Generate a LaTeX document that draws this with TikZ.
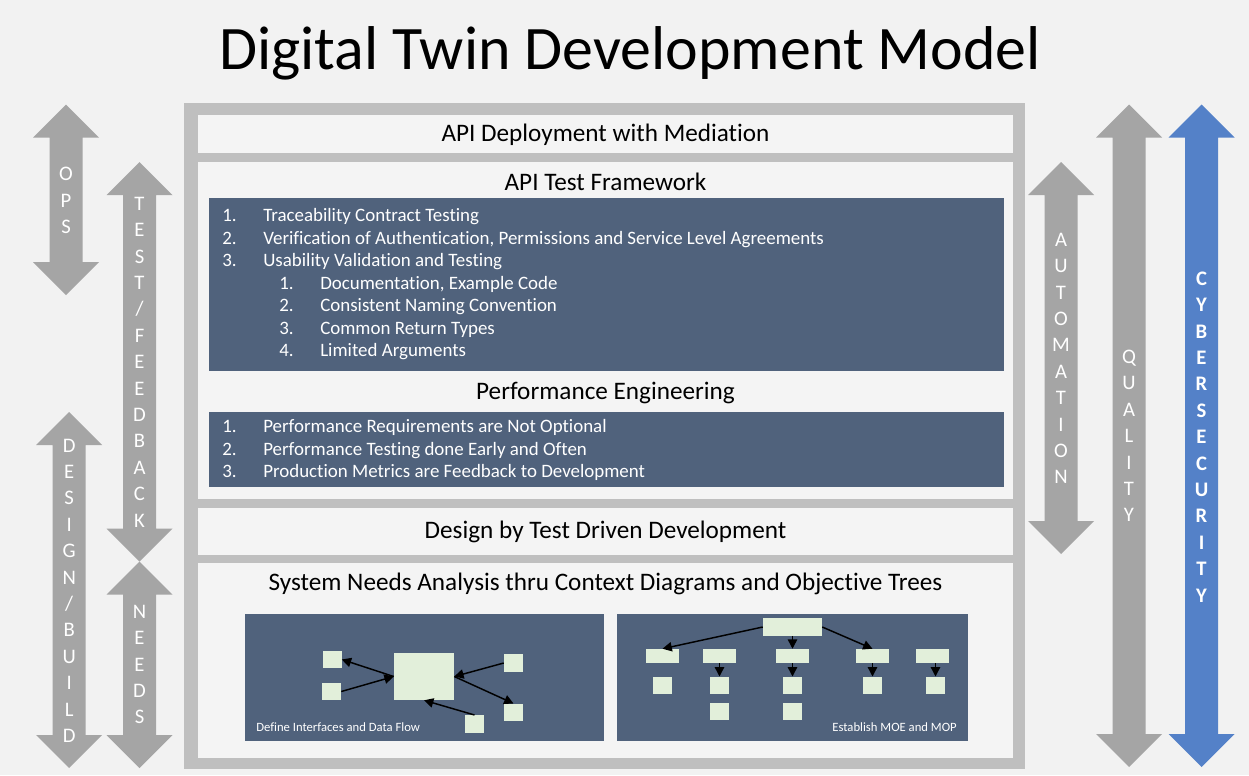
\documentclass[tikz,border=0pt]{standalone}
\usepackage{fontspec}
\setmainfont[Ligatures=NoCommon]{Carlito}
\usepackage{tikz}
\usetikzlibrary{arrows.meta}

\definecolor{bggray}{HTML}{F2F2F2}
\definecolor{panelgray}{HTML}{F4F4F4}
\definecolor{framegray}{HTML}{BFBFBF}
\definecolor{arrowgray}{HTML}{A5A5A5}
\definecolor{slate}{HTML}{50627C}
\definecolor{cyberblue}{HTML}{5481C8}
\definecolor{palegreen}{HTML}{E2EFDA}

% box from corner (#2,#3) to corner (#4,#5), in pixels
\newcommand\pbox[6]{%
  \node[#6, minimum width={(#4-#2)*0.75pt}, minimum height={(#5-#3)*0.75pt}] (#1) at (#2,#3) {};}
% double headed block arrow: centre x, top, bottom, colour
\newcommand\dblarrow[4]{%
  \fill[#4] (#1,#2) -- ++(33,33) -- ++(-16.5,0) -- (#1+16.5,#3-33) -- ++(16.5,0)
    -- (#1,#3) -- ++(-33,-33) -- ++(16.5,0) -- (#1-16.5,#2+33) -- ++(-16.5,0) -- cycle;}

\begin{document}
\begin{tikzpicture}[x=0.75pt, y=-0.75pt,
  panel/.style={fill=panelgray, anchor=north west, inner sep=0pt},
  darkpanel/.style={fill=slate, anchor=north west, inner sep=0pt},
  hdr/.style={font=\fontsize{18.9}{22}\selectfont, anchor=base, inner sep=0pt},
  item/.style={font=\fontsize{14.2}{16}\selectfont, text=white, anchor=base west, inner sep=0pt},
  vlbl/.style={font=\fontsize{15.5}{19.8}\selectfont, text=white, align=center, inner sep=0pt},
  note/.style={font=\fontsize{9.5}{11}\selectfont, text=white, inner sep=0pt},
  blk/.style={fill=palegreen, inner sep=0pt},
  sq/.style={blk, minimum width=19*0.75pt, minimum height=17.5*0.75pt},
  bar/.style={blk, minimum width=33*0.75pt, minimum height=14*0.75pt},
  flow/.style={-{Triangle[length=7pt,width=7pt]}, line width=1.1pt, black}]

  \useasboundingbox[fill=bggray] (0,0) rectangle (1249,775);

  % Title
  \node[font=\fontsize{46.4}{50}\selectfont, anchor=base, inner sep=0pt] (title) at (630,69.5) {Digital Twin Development Model};

  % Side arrows
  \dblarrow{66}{104.5}{295}{arrowgray}
  \dblarrow{139.5}{162}{561.7}{arrowgray}
  \dblarrow{69.2}{412}{768}{arrowgray}
  \dblarrow{139.5}{561.7}{768}{arrowgray}
  \dblarrow{1061}{162}{554}{arrowgray}
  \dblarrow{1129}{104.5}{767}{arrowgray}
  \dblarrow{1201.5}{104.5}{767}{cyberblue}

  \node[vlbl] (ops)    at (66,200.5)   {O\\P\\S};
  \node[vlbl] (test)   at (139.5,362)  {T\\E\\S\\T\\/\\F\\E\\E\\D\\B\\A\\C\\K};
  \node[vlbl] (design) at (69.2,590.6) {D\\E\\S\\I\\G\\N\\/\\B\\U\\I\\L\\D};
  \node[vlbl] (needs)  at (139.5,664.5) {N\\E\\E\\D\\S};
  \node[vlbl] (auto)   at (1061,358.5) {A\\U\\T\\O\\M\\A\\T\\I\\O\\N};
  \node[vlbl] (qual)   at (1129,436)   {Q\\U\\A\\L\\I\\T\\Y};
  \node[vlbl, font=\fontsize{15.5}{19.8}\selectfont\bfseries] (cyber) at (1201.5,437) {C\\Y\\B\\E\\R\\S\\E\\C\\U\\R\\I\\T\\Y};

  % Frame and panels
  \pbox{frame}{184}{103}{1025}{769}{panel, fill=framegray}
  \pbox{deploy}{198}{115}{1013}{153}{panel}
  \pbox{testbox}{198}{162}{1013}{499}{panel}
  \pbox{tdd}{198}{508}{1013}{555}{panel}
  \pbox{needsbox}{198}{563}{1013}{758}{panel}
  \pbox{apilist}{209}{198}{1004}{370.5}{darkpanel}
  \pbox{perflist}{209}{412}{1004}{487}{darkpanel}
  \pbox{ctxpane}{245}{614}{604}{740.5}{darkpanel}
  \pbox{treepane}{617}{614}{967.5}{740.5}{darkpanel}

  \node[hdr] (deployT) at (605.5,141.7) {API Deployment with Mediation};
  \node[hdr] (testT)   at (605.5,190.7) {API Test Framework};
  \node[hdr] (perfT)   at (605.5,399.7) {Performance Engineering};
  \node[hdr] (tddT)    at (605.5,538.7) {Design by Test Driven Development};
  \node[hdr] (needsT)  at (605.5,590.7) {System Needs Analysis thru Context Diagrams and Objective Trees};

  % API test items
  \foreach \txt [count=\i] in {Traceability Contract Testing,
      {Verification of Authentication, Permissions and Service Level Agreements},
      Usability Validation and Testing} {
    \node[item] (apiN\i) at (222,221.7+22.5*\i-22.5) {\i.};
    \node[item] (api\i)  at (263,221.7+22.5*\i-22.5) {\txt};
  }
  \foreach \txt [count=\i] in {{Documentation, Example Code}, Consistent Naming Convention,
      Common Return Types, Limited Arguments} {
    \node[item] (useN\i) at (279,289+22.5*\i-22.5) {\i.};
    \node[item] (use\i)  at (320,289+22.5*\i-22.5) {\txt};
  }

  % Performance items
  \foreach \txt [count=\i] in {Performance Requirements are Not Optional,
      Performance Testing done Early and Often,
      Production Metrics are Feedback to Development} {
    \node[item] (perfN\i) at (222,432.6+22.5*\i-22.5) {\i.};
    \node[item] (perf\i)  at (263,432.6+22.5*\i-22.5) {\txt};
  }

  % Context diagram
  \node[blk, minimum width=60*0.75pt, minimum height=47*0.75pt] (ctx) at (424,676.5) {};
  \node[sq] (outL) at (332,659.5) {};
  \node[sq] (inL)  at (331.5,691.5) {};
  \node[sq] (inR)  at (513.5,663) {};
  \node[sq] (outR) at (513.5,712.5) {};
  \node[sq] (inB)  at (474.5,724) {};
  \draw[flow] (ctx.west) -- (outL.east);
  \draw[flow] (inL.east) -- (ctx.west);
  \draw[flow] (inR.west) -- (ctx.east);
  \draw[flow] (ctx.east) -- (outR.north);
  \draw[flow] (inB.north) -- (ctx.south);
  \node[note, anchor=base west] (ctxT) at (256,731.5) {Define Interfaces and Data Flow};

  % Objective tree
  \node[blk, minimum width=59*0.75pt, minimum height=18*0.75pt] (goal) at (792.5,627) {};
  \foreach \x [count=\i] in {662.5,719,792.5,872.5,932.5}
    \node[bar] (moe\i) at (\x,656) {};
  \foreach \x [count=\i] in {662.5,719.5,792.5,872.5,935.5}
    \node[sq] (mop\i) at (\x,685.5) {};
  \node[sq] (mopB2) at (719.5,711.5) {};
  \node[sq] (mopB3) at (792.5,711.5) {};
  \draw[flow] (goal.west) -- (moe1.north);
  \draw[flow] (goal.south) -- (moe3.north);
  \draw[flow] (goal.east) -- (moe4.north);
  \foreach \i in {2,...,5}
    \draw[flow] (moe\i.south -| mop\i.north) -- (mop\i.north);
  \node[note, anchor=base east] (treeT) at (957,731.5) {Establish MOE and MOP};
\end{tikzpicture}
\end{document}
